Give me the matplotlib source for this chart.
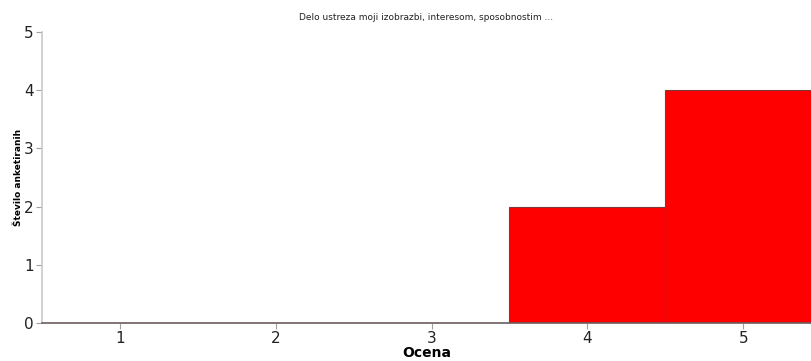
import matplotlib
matplotlib.use("Agg")
import matplotlib.pyplot as plt

# Chart data
ocene = [1, 2, 3, 4, 5]
stevilo = [0, 0, 0, 2, 4]
naslov = "Delo ustreza moji izobrazbi, interesom, sposobnostim ..."

fig = plt.figure(figsize=(8.11, 3.61), dpi=100)
ax = fig.add_axes([42 / 811, 38 / 361, 1 - 42 / 811, 291 / 361])

ax.bar(ocene, stevilo, width=1.0, color="#ff0000", edgecolor="#7a3a3a", linewidth=0.8)

ax.set_xlim(0.5, 5.435)
ax.set_ylim(0, 5)
ax.set_xticks(ocene)
ax.set_yticks(range(0, 6))

for side in ["top", "right"]:
    ax.spines[side].set_visible(False)
ax.spines["left"].set_color("#c8c8c8")
ax.spines["left"].set_linewidth(1.2)
ax.spines["bottom"].set_color("#6b5d5d")
ax.spines["bottom"].set_linewidth(1.2)

ax.tick_params(axis="both", colors="#a0a0a0", labelcolor="#222222",
               labelsize=11, length=4, width=0.8)
ax.tick_params(axis="y", pad=2)
ax.tick_params(axis="x", pad=2)

ax.set_xlabel("Ocena", fontsize=10, fontweight="bold", labelpad=0)
ax.set_ylabel("Število anketiranih", fontsize=6.5, fontweight="bold", labelpad=1)
fig.text((42 + 811) / 2 / 811, 1 - 18 / 361, naslov, fontsize=6.5,
         ha="center", va="center", color="#222222")

fig.savefig("out.png", dpi=100)
